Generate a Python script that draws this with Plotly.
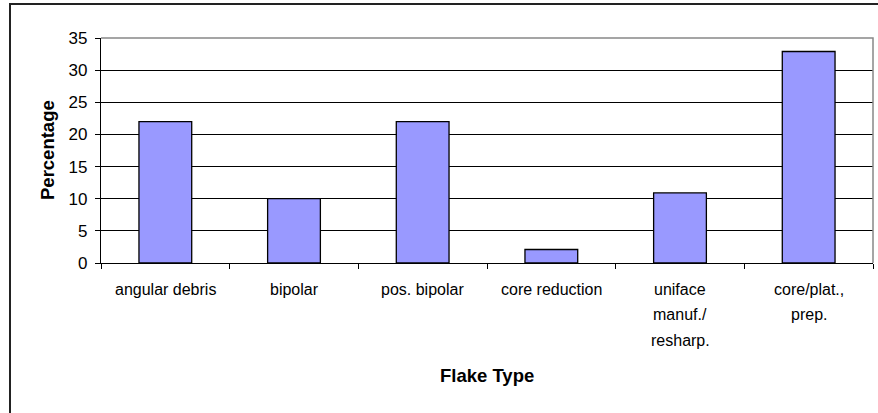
import plotly.graph_objects as go

categories = ["angular debris", "bipolar", "pos. bipolar", "core reduction",
              "uniface manuf./ resharp.", "core/plat., prep."]
label_lines = [["angular debris"], ["bipolar"], ["pos. bipolar"], ["core reduction"],
               ["uniface", "manuf./", "resharp."], ["core/plat.,", "prep."]]
percentages = [22.0, 10.0, 22.0, 2.1, 10.9, 32.9]
y_ticks = [0, 5, 10, 15, 20, 25, 30, 35]

FONT = "Liberation Sans, Arial, sans-serif"
W, H = 878, 413
L, R, T, B = 101, 5, 38, 150

fig = go.Figure(go.Bar(
    x=categories, y=percentages,
    marker=dict(color="#9999FF", line=dict(color="#000000", width=1.3)),
    hoverinfo="x+y",
))

annotations = []
for cat, lines in zip(categories, label_lines):
    for i, line in enumerate(lines):
        annotations.append(dict(
            x=cat, xref="x", y=0, yref="paper", yanchor="middle",
            yshift=-26 - i * 25.7, text=line, showarrow=False,
            font=dict(family=FONT, size=16, color="#000000"),
        ))

pw = W - L - R
ph = H - T - B
x0 = (10 - L) / pw
y1 = (H - B - 4) / ph

fig.update_layout(
    width=W, height=H,
    margin=dict(l=L, r=R, t=T, b=B),
    paper_bgcolor="white", plot_bgcolor="white",
    bargap=0.59,
    showlegend=False,
    font=dict(family=FONT, size=16, color="#000000"),
    annotations=annotations + [
        dict(x=0.5, xref="paper", y=0, yref="paper", yanchor="middle",
             yshift=-112, text="<b>Flake Type</b>", showarrow=False,
             font=dict(family=FONT, size=18.5, color="#000000")),
        dict(x=0, xref="paper", y=0.5, yref="paper", xanchor="center",
             yanchor="middle", xshift=-53.5, text="<b>Percentage</b>",
             textangle=-90, showarrow=False,
             font=dict(family=FONT, size=18.5, color="#000000")),
    ],
    shapes=[
        dict(type="path", xref="paper", yref="paper",
             path=f"M {x0},-0.7 L {x0},{y1} L 1.2,{y1}",
             line=dict(color="#222222", width=2)),
        dict(type="path", xref="paper", yref="paper",
             path="M 0,1 L 1,1 L 1,0",
             line=dict(color="#888888", width=1.5), layer="above"),
    ],
    xaxis=dict(
        type="category", showticklabels=False,
        showline=True, linecolor="#000000", linewidth=1.3,
        ticks="outside", ticklen=5, tickcolor="#000000", tickson="boundaries",
        showgrid=False, zeroline=False,
    ),
    yaxis=dict(
        range=[0, 35], tickvals=y_ticks,
        showline=True, linecolor="#000000", linewidth=1.3,
        ticks="outside", ticklen=5, tickcolor="#000000",
        showgrid=True, gridcolor="#000000", gridwidth=1,
        zeroline=False,
        tickfont=dict(family=FONT, size=17),
        ticklabelstandoff=4,
    ),
)

fig.write_html("out.html", config={"displayModeBar": False},
               post_script="document.body.style.margin='0';document.body.style.overflow='hidden';")
